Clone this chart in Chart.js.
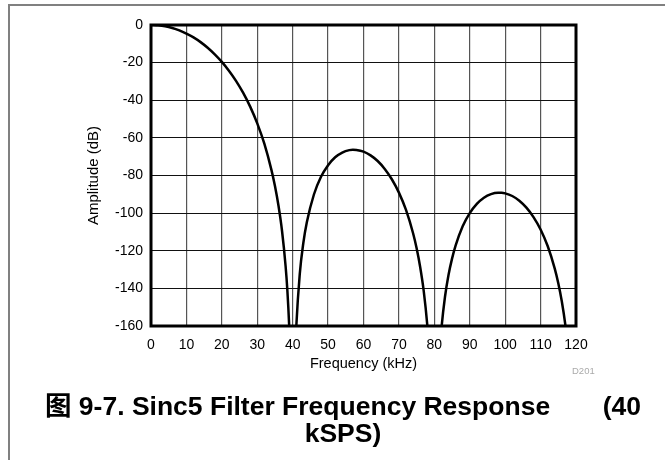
<!DOCTYPE html>
<html>
<head>
<meta charset="utf-8">
<script src="https://cdn.jsdelivr.net/npm/chart.js@4/dist/chart.umd.min.js"></script>
<style>
  html, body { margin: 0; padding: 0; background: #fff; }
  body { width: 665px; height: 460px; position: relative; overflow: hidden; font-family: "Liberation Sans", Arial, "Noto Sans CJK SC", sans-serif; }
  #frame { position: absolute; left: 8px; top: 4px; width: 800px; height: 600px; border-top: 2px solid #808080; border-left: 2px solid #808080; }
  #myChart { position: absolute; left: 0; top: 0; }
  #code { position: absolute; left: 572px; top: 365px; font-size: 9.5px; color: #aaa; }
  #caption { position: absolute; left: 45px; top: 393px; width: 596px; font-size: 26.5px; font-weight: bold; line-height: 27px; color: #000; }
  #caption .row1 { display: flex; justify-content: space-between; }
  #caption .row2 { text-align: center; }
</style>
</head>
<body>
<div id="frame"></div>
<canvas id="myChart" width="665" height="460"></canvas>
<div id="code">D201</div>
<div id="caption">
  <div class="row1"><span>图 9-7. Sinc5 Filter Frequency Response</span><span>(40</span></div>
  <div class="row2">kSPS)</div>
</div>
<script>
//周波数 (kHz)
const freqKHz = [0,2,4,6,8,10,12,14,16,18,20,22,24,26,28,30,32,34,35,36,37,38,38.5,39,39.3,
  40.7,41,42,43,44,46,48,50,52,54,56,57,58,60,62,64,66,68,70,72,74,75,76,77,78,78.6,
  81.4,82,83,84,85,86,88,90,92,94,96,98,99,100,102,104,106,108,110,112,114,115,116,117,117.6];
//振幅 (dB)
const ampDb = [0,-0.2,-0.7,-1.6,-2.9,-4.6,-6.6,-9.1,-12.1,-15.6,-19.6,-24.3,-29.7,-36.0,-43.4,-52.3,-63.1,-77.0,-85.6,-96.1,-109.5,-128.1,-141.0,-159.2,-175.0,
  -176.5,-161.3,-132.4,-116.0,-104.9,-90.1,-80.7,-74.5,-70.3,-67.8,-66.5,-66.3,-66.4,-67.3,-69.3,-72.3,-76.5,-82.0,-89.1,-98.3,-110.7,-118.7,-128.6,-141.3,-159.3,-175.0,
  -176.5,-161.5,-144.6,-132.9,-124.2,-117.3,-107.0,-100.0,-95.1,-91.8,-89.9,-89.2,-89.2,-89.5,-90.9,-93.4,-97.1,-102.1,-108.7,-117.5,-129.5,-137.3,-147.0,-159.5,-169.3];
//目盛り
const xTicks = [0,10,20,30,40,50,60,70,80,90,100,110,120];
const yTicks = [0,-20,-40,-60,-80,-100,-120,-140,-160];

const points = freqKHz.map((f, i) => ({x: f, y: ampDb[i]}));

//プロット枠
const frameBox = {
  id: 'frameBox',
  afterDatasetsDraw(chart) {
    const a = chart.chartArea, ctx = chart.ctx;
    ctx.save();
    ctx.strokeStyle = '#000';
    ctx.lineWidth = 3;
    ctx.strokeRect(a.left, a.top, a.right - a.left, a.bottom - a.top);
    ctx.restore();
  }
};

Chart.defaults.font.family = '"Liberation Sans", Arial, sans-serif';
Chart.defaults.color = '#000';

const elem = document.getElementById('myChart');
const chart = new Chart(elem, {
  type: 'line',
  data: {
    datasets: [{
      data: points,
      borderColor: '#000',
      borderWidth: 2.5,
      pointRadius: 0,
      cubicInterpolationMode: 'monotone',
      fill: false
    }]
  },
  options: {
    responsive: false,
    animation: false,
    layout: { padding: { left: 81, top: 25, right: 89, bottom: 83 } },
    plugins: { legend: { display: false }, tooltip: { enabled: false } },
    scales: {
      x: {
        type: 'linear',
        min: 0, max: 120,
        afterBuildTicks: s => { s.ticks = xTicks.map(v => ({value: v})); },
        afterFit: s => { s.height = 51; },
        grid: { color: '#555', lineWidth: 1.2, drawTicks: false },
        border: { display: false },
        ticks: { font: { size: 14 }, padding: 11, maxRotation: 0 },
        title: { display: true, text: 'Frequency (kHz)', font: { size: 14.5 }, padding: 4 }
      },
      y: {
        min: -160, max: 0,
        afterBuildTicks: s => { s.ticks = yTicks.map(v => ({value: v})); },
        afterFit: s => { s.width = 70; },
        grid: { color: '#111', lineWidth: 1, drawTicks: false },
        border: { display: false },
        ticks: { font: { size: 14 }, padding: 8 },
        title: { display: true, text: 'Amplitude (dB)', font: { size: 15 }, padding: 4 }
      }
    }
  },
  plugins: [frameBox]
});
</script>
</body>
</html>
